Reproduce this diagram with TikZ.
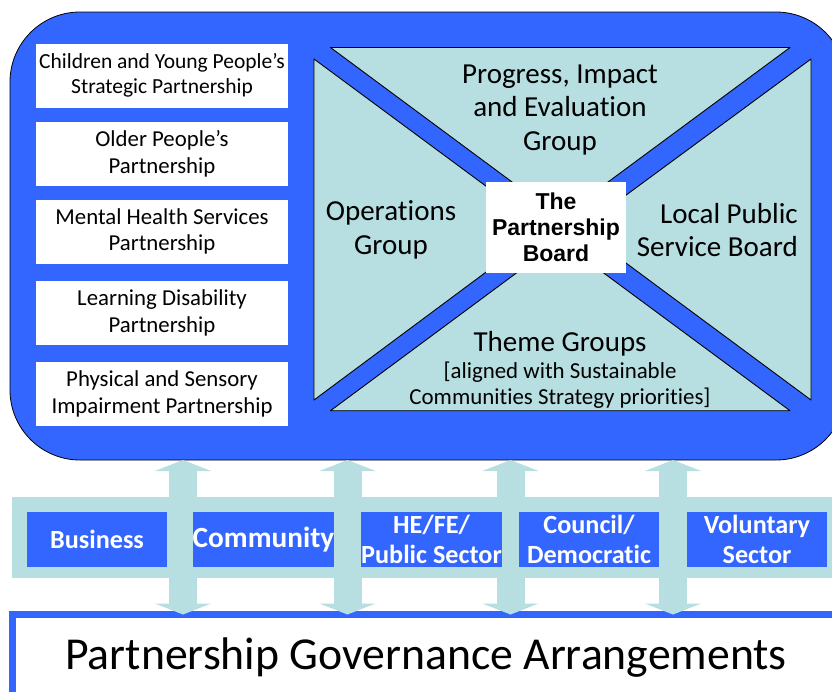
\documentclass[tikz,border=0pt]{standalone}
\usepackage{fontspec}
\setmainfont{Carlito}[Ligatures=NoCommon]
\newfontfamily\arialfont{Liberation Sans}
\usetikzlibrary{arrows.meta}
\definecolor{pblue}{RGB}{51,102,255}
\definecolor{plight}{RGB}{183,222,225}
\begin{document}
\begin{tikzpicture}[x=1pt,y=-1pt,
  leftbox/.style={fill=white, minimum width=252pt, minimum height=64pt, inner sep=0pt, outer sep=0pt, align=center, font=\fontsize{22.8}{26.5}\selectfont},
  quad/.style={fill=plight, draw=black, line width=0.9pt, line join=round},
  grp/.style={align=center, inner sep=0pt, font=\fontsize{29}{33.5}\selectfont},
  stake/.style={fill=pblue, text=white, minimum width=140pt, minimum height=55pt, inner sep=0pt, outer sep=0pt, align=center, font=\bfseries\fontsize{26.2}{30}\selectfont},
  dbl/.style={draw=plight, line width=28pt, {Triangle[width=56pt,length=11pt]}-{Triangle[width=56pt,length=11pt]}}
]
\useasboundingbox (0,0) rectangle (832,691);
% main container
\node[draw=black, line width=0.8pt, fill=pblue, rounded corners=70pt, minimum width=836pt, minimum height=448pt, outer sep=0pt] (big) at (428,236) {};
% quadrants
\draw[quad] (330.5,47.5) -- (790,47.5) -- (560,217.5) -- cycle;
\draw[quad] (330.5,410.7) -- (790,410.7) -- (560,240.7) -- cycle;
\draw[quad] (314,59) -- (544,229) -- (314,400) -- cycle;
\draw[quad] (811,59) -- (580,229) -- (811,400) -- cycle;
\node[grp] (pie) at (560,110) {Progress, Impact\\and Evaluation\\Group};
\node[grp] (ops) at (391,230) {Operations\\Group};
\node[grp, align=right, anchor=east] (lpsb) at (798,230) {Local Public\\Service Board};
\node[grp] (theme) at (560,344) {Theme Groups};
\node[grp, font=\fontsize{22.9}{25.5}\selectfont, anchor=north] (themesub) at (560,362) {[aligned with Sustainable\\Communities Strategy priorities]};
\node[fill=white, minimum width=140pt, minimum height=91pt, inner sep=0pt, align=center, font=\arialfont\bfseries\fontsize{23}{26}\selectfont] (board) at (556,227.5) {The\\Partnership\\Board};
% left partnerships
\node[leftbox, font=\fontsize{21.5}{25}\selectfont] (cyp) at (162,75.5) {Children and Young People’s\\Strategic Partnership};
\node[leftbox] (opp) at (162,154) {Older People’s\\Partnership};
\node[leftbox] (mhs) at (162,231.5) {Mental Health Services\\Partnership};
\node[leftbox] (ldp) at (162,313) {Learning Disability\\Partnership};
\node[leftbox] (psi) at (162,394) {Physical and Sensory\\Impairment Partnership};
% governance box
\node[draw=pblue, line width=7pt, fill=white, minimum width=827pt, minimum height=87pt, inner sep=0pt, outer sep=0pt, font=\fontsize{45.7}{50}\selectfont] (gov) at (426,658) {Partnership Governance Arrangements};
% stakeholder band
\node[fill=plight, minimum width=840pt, minimum height=81pt, inner sep=0pt, outer sep=0pt] (band) at (432,537.5) {};
% double arrows
\coordinate (ax1) at (183,0);
\coordinate (ax2) at (347.5,0);
\coordinate (ax3) at (510.5,0);
\coordinate (ax4) at (673,0);
\draw[dbl] (big.south -| ax1) -- (gov.north -| ax1);
\draw[dbl] (big.south -| ax2) -- (gov.north -| ax2);
\draw[dbl] (big.south -| ax3) -- (gov.north -| ax3);
\draw[dbl] (big.south -| ax4) -- (gov.north -| ax4);
% stakeholders
\node[stake] (bus) at (97,539.5) {Business};
\node[stake, minimum width=141pt, font=\bfseries\fontsize{29.3}{32}\selectfont] (com) at (263.5,539.5) {Community};
\node[stake, minimum width=141pt] (hefe) at (431.5,539.5) {HE/FE/\\Public Sector};
\node[stake] (cou) at (589,539.5) {Council/\\Democratic};
\node[stake] (vol) at (757,539.5) {Voluntary\\Sector};
\end{tikzpicture}
\end{document}
